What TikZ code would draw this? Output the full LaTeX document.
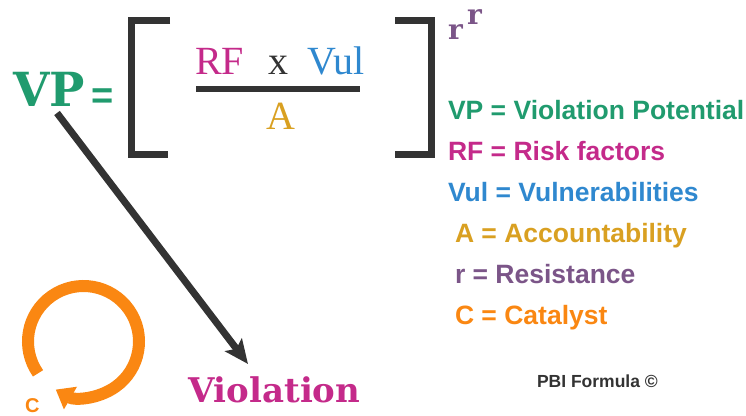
\documentclass[tikz,border=0pt]{standalone}
\usepackage{fontspec}
\setmainfont{Liberation Serif}
\newfontfamily\dvserif{DejaVu Serif}
\newfontfamily\lsans{Liberation Sans}
\usetikzlibrary{arrows.meta}

\definecolor{vpgreen}{HTML}{209B6E}
\definecolor{rfmagenta}{HTML}{C42A8A}
\definecolor{vulblue}{HTML}{2F88CF}
\definecolor{accgold}{HTML}{D9A021}
\definecolor{respurple}{HTML}{7B5588}
\definecolor{catorange}{HTML}{FA8712}
\definecolor{inkgray}{HTML}{333333}

\tikzset{
  txt/.style={inner sep=0pt, outer sep=0pt, anchor=base west},
  bigserif/.style={txt, font=\dvserif\bfseries\fontsize{#1}{#1}\selectfont},
  plainserif/.style={txt, font=\fontsize{40}{40}\selectfont},
  legend/.style={txt, font=\lsans\bfseries\fontsize{26.5}{30}\selectfont},
  bracket/.style={line width=7pt, draw=inkgray, line join=miter},
  bigarrow/.style={line width=7pt, draw=inkgray,
    -{Stealth[length=24pt, width=21pt, inset=5pt]}},
  looparrow/.style={line width=12pt, draw=catorange,
    -{Triangle[length=17pt, width=25pt]}},
}

\begin{document}
\begin{tikzpicture}[x=1pt, y=1pt]
  \useasboundingbox (0,0) rectangle (746,415);

  % left-hand side of the formula
  \node[bigserif=47, text=vpgreen] (vp) at (13,308) {VP};
  \node[txt, anchor=base, text=vpgreen, font=\lsans\bfseries\fontsize{38}{38}\selectfont] (eq) at (103,306) {=};

  % square brackets
  \draw[bracket] (170,394.5) -- (131.5,394.5) -- (131.5,260.5) -- (168,260.5);
  \draw[bracket] (395,394.5) -- (431.5,394.5) -- (431.5,260.5) -- (395,260.5);

  % fraction
  \node[plainserif, text=rfmagenta] (rf) at (195,340) {RF};
  \node[plainserif, anchor=base, text=inkgray] (times) at (278,340) {x};
  \node[plainserif, text=vulblue] (vul) at (307,340) {Vul};
  \draw[line width=5.5pt, draw=inkgray] (196,326) -- (360,326);
  \node[plainserif, anchor=base, text=accgold] (acc) at (281,285) {A};

  % exponent r^r
  \node[bigserif=28, text=respurple] (rbase) at (448,375) {r};
  \node[bigserif=28, text=respurple] (rexp) at (467,390) {r};

  % legend
  \node[legend, text=vpgreen]   (lvp)  at (448,295)   {VP = Violation Potential};
  \node[legend, text=rfmagenta] (lrf)  at (448,254.2) {RF = Risk factors};
  \node[legend, text=vulblue]   (lvul) at (448,213.4) {Vul = Vulnerabilities};
  \node[legend, text=accgold]   (la)   at (455,172.6) {A = Accountability};
  \node[legend, text=respurple] (lr)   at (455,131.8) {r = Resistance};
  \node[legend, text=catorange] (lc)   at (455,91)    {C = Catalyst};

  % outcome
  \node[bigserif=34, text=rfmagenta] (viol) at (188,13) {Violation};
  \coordinate (vpfoot) at (57,302);
  \coordinate (violtip) at (248,51);
  \draw[bigarrow] (vpfoot) -- (violtip);

  % catalyst loop
  \coordinate (loopcentre) at (83.5,73.5);
  \draw[looparrow] ([shift={(215:55.5)}]loopcentre) arc[start angle=215, end angle=-120, radius=55.5];
  \node[txt, text=catorange, font=\lsans\bfseries\fontsize{20}{20}\selectfont] (cat) at (25,3) {C};

  % credit
  \node[txt, text=inkgray, font=\lsans\bfseries\fontsize{17.5}{20}\selectfont] (credit) at (537,28) {PBI Formula ©};
\end{tikzpicture}
\end{document}
